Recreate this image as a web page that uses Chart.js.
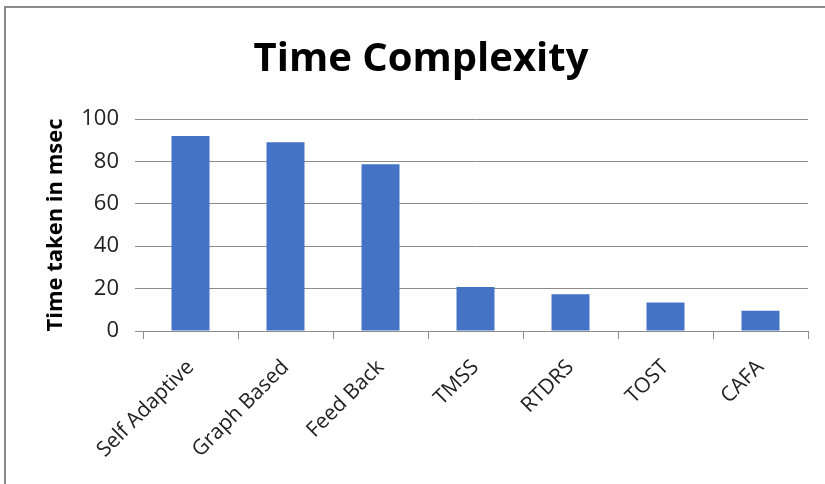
<!DOCTYPE html>
<html>
<head>
<meta charset="utf-8">
<script src="https://cdn.jsdelivr.net/npm/chart.js@4.4.1/dist/chart.umd.min.js"></script>
<style>
  html, body { margin: 0; padding: 0; background: #fff; }
  #wrap { width: 825px; height: 484px; position: relative; }
</style>
</head>
<body>
<div id="wrap"><canvas id="timeChart"></canvas></div>
<script>
const categories = ['Self Adaptive', 'Graph Based', 'Feed Back', 'TMSS', 'RTDRS', 'TOST', 'CAFA'];
const timeTaken = [92, 89, 78.6, 20.8, 17.3, 13.5, 9.6];
const yTicks = [0, 20, 40, 60, 80, 100];

const FONT = '"Open Sans", "Liberation Sans", sans-serif';
const GRID = '#8c8c8c';

// gray frame around the chart (cut off at right and bottom like the screenshot)
const framePlugin = {
    id: 'frame',
    beforeDraw(chart) {
        const c = chart.ctx;
        c.save();
        c.fillStyle = '#ffffff';
        c.fillRect(0, 0, chart.width, chart.height);
        c.strokeStyle = '#8a8a8a';
        c.lineWidth = 2;
        c.beginPath();
        c.moveTo(5, chart.height);
        c.lineTo(5, 7);
        c.lineTo(chart.width, 7);
        c.stroke();
        c.restore();
    }
};

const ctx = document.getElementById('timeChart').getContext('2d');
const timeChart = new Chart(ctx, {
    type: 'bar',
    data: {
        labels: categories,
        datasets: [{
            label: 'Time taken in msec',
            data: timeTaken,
            backgroundColor: '#4472C4',
            borderWidth: 0,
            categoryPercentage: 1.0,
            barPercentage: 0.4
        }]
    },
    options: {
        responsive: true,
        maintainAspectRatio: false,
        animation: false,
        layout: {
            padding: { left: 34, right: 17, top: 0, bottom: 0 }
        },
        plugins: {
            legend: { display: false },
            tooltip: { enabled: false },
            title: {
                display: true,
                text: 'Time Complexity',
                color: '#000',
                font: { family: FONT, size: 40, weight: 'bold' },
                padding: { top: 36, bottom: 35 }
            }
        },
        scales: {
            x: {
                offset: true,
                grid: {
                    display: true,
                    offset: true,
                    drawOnChartArea: false,
                    drawTicks: true,
                    tickLength: 8,
                    color: GRID
                },
                border: { display: true, color: GRID, width: 1 },
                ticks: {
                    color: '#222',
                    font: { family: FONT, size: 21 },
                    minRotation: 45,
                    maxRotation: 45,
                    autoSkip: false,
                    padding: 16
                },
                afterFit(scale) { scale.height = 153; }
            },
            y: {
                min: 0,
                max: 100,
                afterBuildTicks(scale) {
                    scale.ticks = yTicks.map(v => ({ value: v }));
                },
                grid: {
                    color: GRID,
                    tickLength: 8,
                    drawTicks: true
                },
                border: { display: false },
                ticks: {
                    color: '#222',
                    font: { family: FONT, size: 22 },
                    padding: 16
                },
                title: {
                    display: true,
                    text: 'Time taken in msec',
                    color: '#000',
                    font: { family: FONT, size: 22, weight: 'bold' },
                    padding: { top: 9, bottom: 0 }
                },
                afterFit(scale) { scale.width = 109; }
            }
        }
    },
    plugins: [framePlugin]
});
</script>
</body>
</html>
